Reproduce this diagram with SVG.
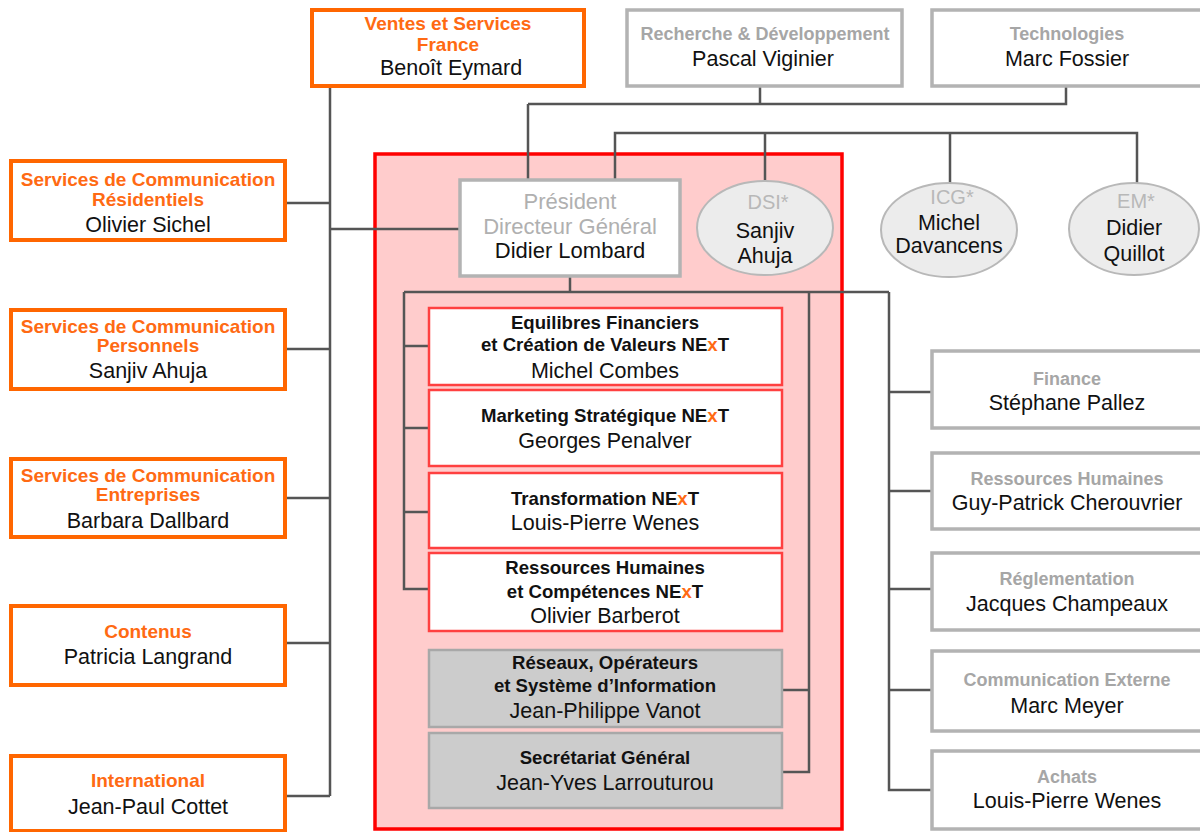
<svg xmlns="http://www.w3.org/2000/svg" width="1200" height="832" viewBox="0 0 1200 832">
<style>
text{font-family:"Liberation Sans",Arial,sans-serif;text-anchor:middle}
.h{font-weight:bold;font-size:19px}
.ho{fill:#ff6a13}
.hg{fill:#a6a6a6;font-size:18px}
.hi{fill:#111;font-size:18.6px}
.n{font-size:21.5px;fill:#111}
.pg{font-size:22px;fill:#b0b0b0}
.lg{font-size:20px;fill:#b8b8b8}
.x{fill:#ff6a13}
.bo{fill:#fff;stroke:#ff6600;stroke-width:4}
.bg{fill:#fff;stroke:#b3b3b3;stroke-width:3.5}
.bi{fill:#fff;stroke:#ff4040;stroke-width:2.5}
.bs{fill:#cccccc;stroke:#a8a8a8;stroke-width:2.5}
.el{fill:#ececec;stroke:#b8b8b8;stroke-width:2}
.c{fill:none;stroke:#555;stroke-width:2.5}
</style>
<g id="office">
<rect x="375" y="154" width="467" height="675" fill="#ffcccc" stroke="#ff0000" stroke-width="3.5"/>
</g>
<g id="connectors">
<path class="c" d="M330,86V796M285,203H330M285,349H330M285,498H330M285,643H330M285,796H330M330,229H460"/>
<path class="c" d="M760,86V104M528,104H1066V86M528,104V180"/>
<path class="c" d="M615,180V133H1137V183M765,133V181M950,133V183"/>
<path class="c" d="M570,276V292M404,292H889"/>
<path class="c" d="M404,292V589H429M404,346H429M404,428H429M404,512H429"/>
<path class="c" d="M809,292V772H782M782,690H809"/>
<path class="c" d="M889,292V790H932M889,392H932M889,491H932M889,589H932M889,690H932"/>
</g>
<g id="ventes"><rect class="bo" x="312" y="10" width="272" height="76"/>
<text class="h ho" x="448" y="29.5">Ventes et Services</text><text class="h ho" x="448" y="50.5">France</text><text class="n" x="451" y="74.5">Benoît Eymard</text></g>
<g id="rd"><rect class="bg" x="627" y="10" width="275" height="76"/>
<text class="h hg" x="765" y="39.5">Recherche &amp; Développement</text><text class="n" x="763" y="65.5">Pascal Viginier</text></g>
<g id="tech"><rect class="bg" x="932" y="10" width="272" height="76"/>
<text class="h hg" x="1067" y="39.5">Technologies</text><text class="n" x="1067" y="65.5">Marc Fossier</text></g>
<g id="scr"><rect class="bo" x="11" y="161" width="274" height="79"/>
<text class="h ho" x="148" y="185.5">Services de Communication</text><text class="h ho" x="148" y="205.5">Résidentiels</text><text class="n" x="148" y="231.5">Olivier Sichel</text></g>
<g id="scp"><rect class="bo" x="11" y="310" width="274" height="79"/>
<text class="h ho" x="148" y="332.5">Services de Communication</text><text class="h ho" x="148" y="351.5">Personnels</text><text class="n" x="148" y="377.5">Sanjiv Ahuja</text></g>
<g id="sce"><rect class="bo" x="11" y="459" width="274" height="78"/>
<text class="h ho" x="148" y="481.5">Services de Communication</text><text class="h ho" x="148" y="500.5">Entreprises</text><text class="n" x="148" y="527.5">Barbara Dallbard</text></g>
<g id="contenus"><rect class="bo" x="11" y="606" width="274" height="79"/>
<text class="h ho" x="148" y="637.5">Contenus</text><text class="n" x="148" y="663.5">Patricia Langrand</text></g>
<g id="international"><rect class="bo" x="11" y="756" width="274" height="75"/>
<text class="h ho" x="148" y="786.5">International</text><text class="n" x="148" y="813.5">Jean-Paul Cottet</text></g>
<g id="pdg"><rect class="bg" x="460" y="180" width="220" height="96"/>
<text class="pg" x="570" y="209">Président</text><text class="pg" x="570" y="234">Directeur Général</text><text class="n" x="570" y="258" style="font-size:22px">Didier Lombard</text></g>
<g id="dsi"><ellipse class="el" cx="765" cy="228" rx="68" ry="47"/>
<text class="lg" x="768" y="209">DSI*</text><text class="n" x="765" y="237.5">Sanjiv</text><text class="n" x="765" y="262.5">Ahuja</text></g>
<g id="icg"><ellipse class="el" cx="949" cy="230" rx="68" ry="47"/>
<text class="lg" x="952" y="204">ICG*</text><text class="n" x="949" y="229.5">Michel</text><text class="n" x="949" y="252.5">Davancens</text></g>
<g id="em"><ellipse class="el" cx="1134" cy="229" rx="65" ry="46"/>
<text class="lg" x="1136" y="208">EM*</text><text class="n" x="1134" y="234.5">Didier</text><text class="n" x="1134" y="260.5">Quillot</text></g>
<g id="equilibres"><rect class="bi" x="429" y="308" width="353" height="77"/>
<text class="h hi" x="605" y="328.5">Equilibres Financiers</text><text class="h hi" x="605" y="350.5">et Création de Valeurs NE<tspan class="x">x</tspan>T</text><text class="n" x="605" y="377.5">Michel Combes</text></g>
<g id="marketing"><rect class="bi" x="429" y="390" width="353" height="76"/>
<text class="h hi" x="605" y="421.5">Marketing Stratégique NE<tspan class="x">x</tspan>T</text><text class="n" x="605" y="447.5">Georges Penalver</text></g>
<g id="transformation"><rect class="bi" x="429" y="473" width="353" height="75"/>
<text class="h hi" x="605" y="504.5">Transformation NE<tspan class="x">x</tspan>T</text><text class="n" x="605" y="529.5">Louis-Pierre Wenes</text></g>
<g id="rh-next"><rect class="bi" x="429" y="553" width="353" height="78"/>
<text class="h hi" x="605" y="573.5">Ressources Humaines</text><text class="h hi" x="605" y="597.5">et Compétences NE<tspan class="x">x</tspan>T</text><text class="n" x="605" y="622.5">Olivier Barberot</text></g>
<g id="reseaux"><rect class="bs" x="429" y="650" width="353" height="77"/>
<text class="h hi" x="605" y="668.5">Réseaux, Opérateurs</text><text class="h hi" x="605" y="691.5">et Système d’Information</text><text class="n" x="605" y="717.5">Jean-Philippe Vanot</text></g>
<g id="secretariat"><rect class="bs" x="429" y="733" width="353" height="75"/>
<text class="h hi" x="605" y="763.5">Secrétariat Général</text><text class="n" x="605" y="789.5">Jean-Yves Larrouturou</text></g>
<g id="finance"><rect class="bg" x="932" y="351" width="272" height="77"/>
<text class="h hg" x="1067" y="384.5">Finance</text><text class="n" x="1067" y="409.5">Stéphane Pallez</text></g>
<g id="rh"><rect class="bg" x="932" y="453" width="272" height="76"/>
<text class="h hg" x="1067" y="484.5">Ressources Humaines</text><text class="n" x="1067" y="509.5">Guy-Patrick Cherouvrier</text></g>
<g id="reglementation"><rect class="bg" x="932" y="553" width="272" height="77"/>
<text class="h hg" x="1067" y="584.5">Réglementation</text><text class="n" x="1067" y="610.5">Jacques Champeaux</text></g>
<g id="comext"><rect class="bg" x="932" y="651" width="272" height="80"/>
<text class="h hg" x="1067" y="685.5">Communication Externe</text><text class="n" x="1067" y="712.5">Marc Meyer</text></g>
<g id="achats"><rect class="bg" x="932" y="751" width="272" height="78"/>
<text class="h hg" x="1067" y="782.5">Achats</text><text class="n" x="1067" y="807.5">Louis-Pierre Wenes</text></g>
</svg>
